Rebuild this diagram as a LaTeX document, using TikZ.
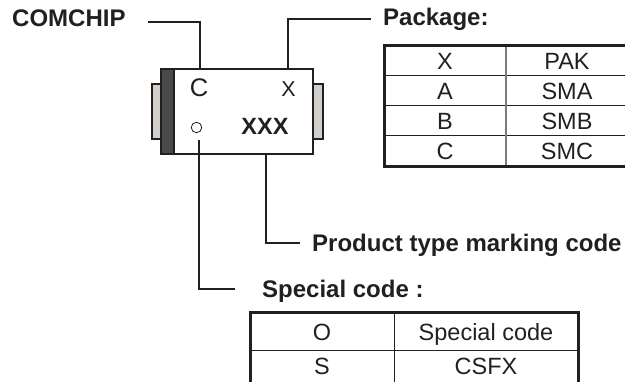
\documentclass[tikz,border=0pt]{standalone}
\usepackage{fontspec}
\setmainfont{Liberation Sans}
\definecolor{ink}{HTML}{231F20}
\definecolor{band}{HTML}{4A4A4C}
\definecolor{tab}{HTML}{D2CEC9}
\definecolor{divgray}{HTML}{7A7A7A}
\tikzset{
  lbl/.style={inner sep=0pt, anchor=base west, text=ink, font=\fontsize{24}{28}\selectfont\bfseries},
  cell/.style={inner sep=0pt, anchor=base, text=ink, font=\fontsize{23.5}{28}\selectfont},
  leader/.style={draw=ink, line width=1.9pt},
  part/.style={draw=ink, line width=1.6pt, inner sep=0pt, anchor=north west},
  outer/.style={draw=ink, line width=3pt},
  inner/.style={draw=ink, line width=1pt},
  innerv/.style={draw=divgray, line width=1.2pt},
}
\begin{document}
\begin{tikzpicture}[x=1pt,y=-1pt]
\useasboundingbox (0,0) rectangle (625,382);
\clip (0,0) rectangle (625,382);
% chip
\node[part, fill=tab, minimum width=9pt, minimum height=55pt] (ltab) at (151,83) {};
\node[part, fill=tab, minimum width=10pt, minimum height=55pt] (rtab) at (312,83) {};
\node[part, fill=white, minimum width=152pt, minimum height=85pt] (chip) at (160,68) {};
\node[part, fill=band, minimum width=13pt, minimum height=85pt] (band) at (160,68) {};
% marking
\node[cell, font=\fontsize{25.5}{28}\selectfont] (mC) at (199,97) {C};
\node[cell, font=\fontsize{21.5}{28}\selectfont] (mX) at (288.5,97) {X};
\node[cell, font=\fontsize{23.5}{28}\selectfont\bfseries] (mXXX) at (265,135) {XXX};
\node[circle, draw=ink, line width=0.8pt, inner sep=0pt, minimum size=10.5pt] (mO) at (196.5,127.5) {};
% labels
\node[lbl] (comchip) at (12,27) {COMCHIP};
\node[lbl] (pkg) at (383,26) {Package:};
\node[lbl] (prod) at (312,251.5) {Product type marking code};
\node[lbl] (spec) at (262,298) {Special code :};
% leader coordinates
\coordinate (a1) at (148,22);
\coordinate (a2) at (200,68);
\coordinate (b1) at (288,68);
\coordinate (b2) at (371,19);
\coordinate (c1) at (266,153);
\coordinate (c2) at (300,243);
\coordinate (d1) at (199,140);
\coordinate (d2) at (235,289);
\draw[leader] (a1) -| (a2);
\draw[leader] (b1) |- (b2);
\draw[leader] (c1) |- (c2);
\draw[leader] (d1) |- (d2);
% package table
\draw[inner] (384,76) -- (628,76);
\draw[inner] (384,106) -- (628,106);
\draw[inner] (384,136) -- (628,136);
\draw[innerv] (506,46) -- (506,167);
\draw[outer] (384,46) rectangle (628,167);
\node[cell] (p1a) at (445,69.5) {X};
\node[cell] (p1b) at (567,69.5) {PAK};
\node[cell] (p2a) at (445,99.5) {A};
\node[cell] (p2b) at (567,99.5) {SMA};
\node[cell] (p3a) at (445,129.5) {B};
\node[cell] (p3b) at (567,129.5) {SMB};
\node[cell] (p4a) at (445,160) {C};
\node[cell] (p4b) at (567,160) {SMC};
% special table
\draw[inner] (250,351) -- (578,351);
\draw[inner] (394,313) -- (394,390);
\draw[outer] (250,313) rectangle (578,390);
\node[cell] (s1a) at (322,340.5) {O};
\node[cell] (s1b) at (486,340.5) {Special code};
\node[cell] (s2a) at (322,375) {S};
\node[cell] (s2b) at (486,375) {CSFX};
\end{tikzpicture}
\end{document}
